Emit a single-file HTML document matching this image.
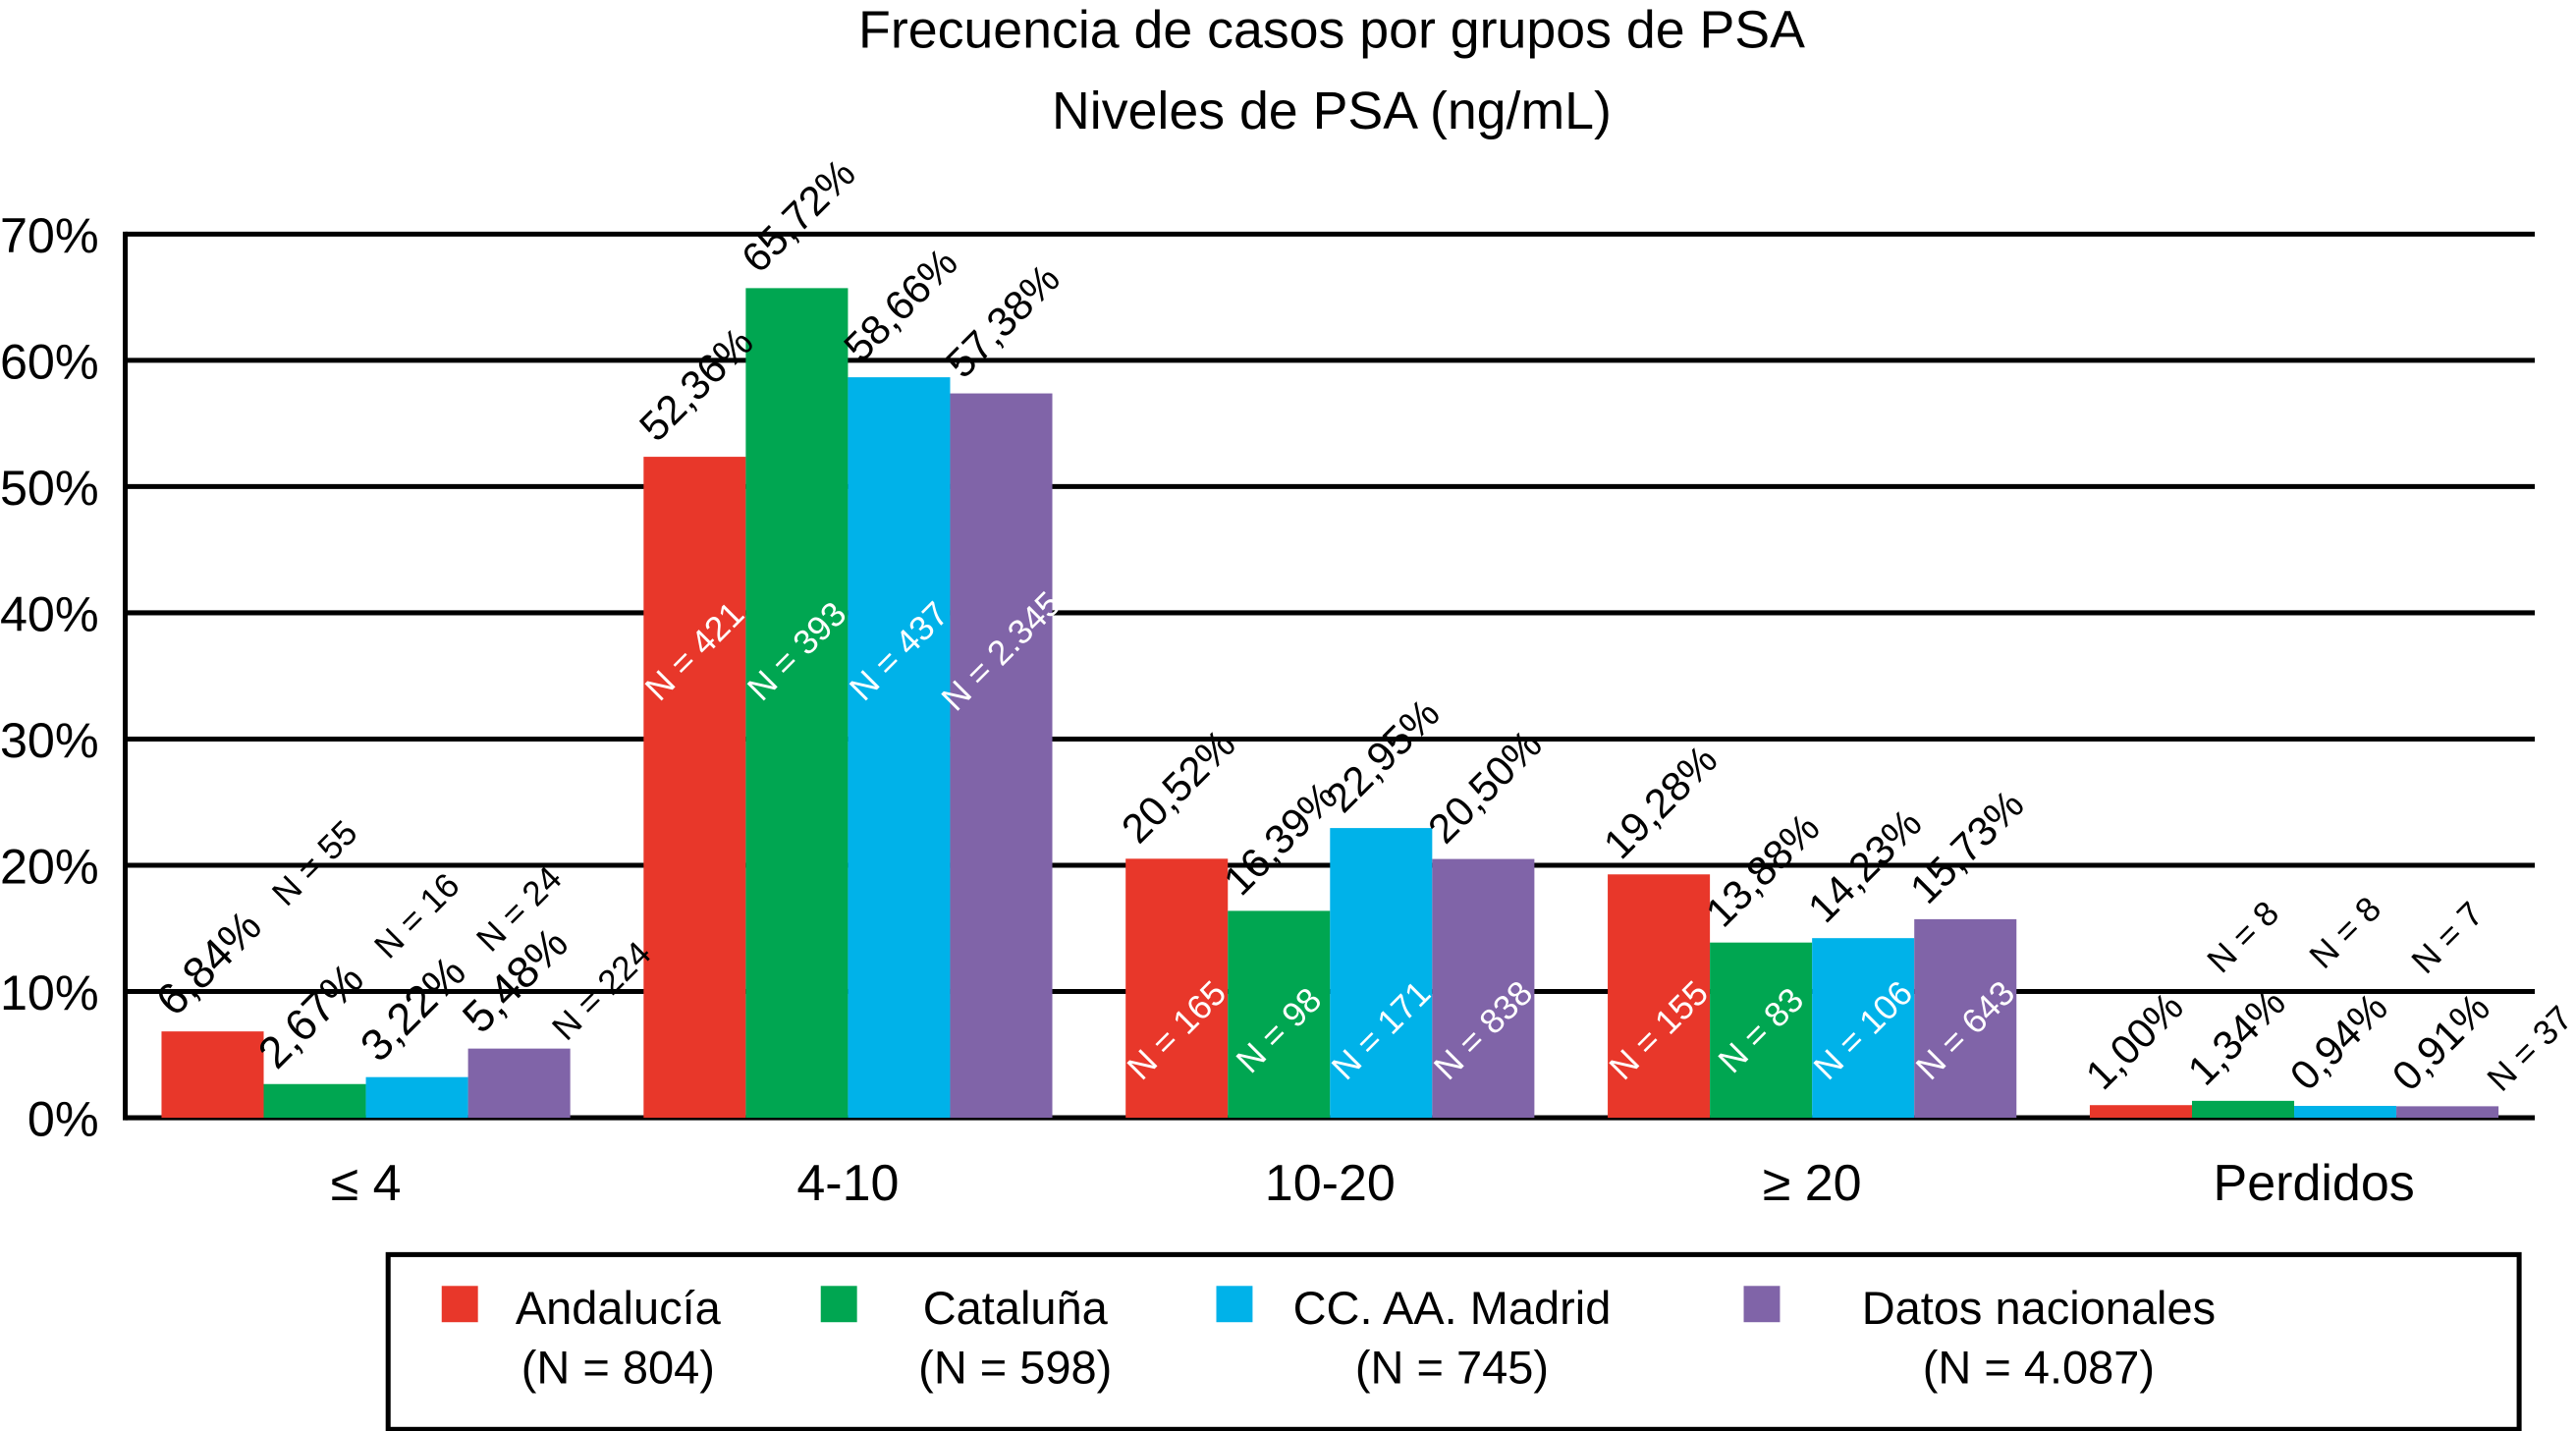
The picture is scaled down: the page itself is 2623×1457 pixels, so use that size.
<!DOCTYPE html>
<html><head><meta charset="utf-8"><title>Frecuencia de casos por grupos de PSA</title>
<style>
html,body{margin:0;padding:0;background:#fff;}
svg{display:block;font-family:"Liberation Sans Narrow","Liberation Sans",sans-serif;}
</style></head>
<body>
<svg id="chart" width="2623" height="1457" viewBox="0 0 1563 868" preserveAspectRatio="none" xmlns="http://www.w3.org/2000/svg">
  <text x="808" y="29" font-size="32" text-anchor="middle">Frecuencia de casos por grupos de PSA</text>
  <text x="808" y="78" font-size="32" text-anchor="middle">Niveles de PSA (ng/mL)</text>
  <g id="grid"></g>
  <g id="yticks"></g>
  <g id="bars"></g>
  <g id="labels"></g>
  <g id="xlabels"></g>
  <g id="legend">
    <rect x="235.5" y="761" width="1293" height="106" fill="none" stroke="#000" stroke-width="3"/>
  </g>
</svg>
<script>
const categories = ["\u2264 4", "4-10", "10-20", "\u2265 20", "Perdidos"];
const seriesNames = ["Andaluc\u00eda", "Catalu\u00f1a", "CC. AA. Madrid", "Datos nacionales"];
const seriesTotals = ["(N = 804)", "(N = 598)", "(N = 745)", "(N = 4.087)"];
const andalucia = [6.84, 52.36, 20.52, 19.28, 1.00];
const cataluna = [2.67, 65.72, 16.39, 13.88, 1.34];
const madrid = [3.22, 58.66, 22.95, 14.23, 0.94];
const nacional = [5.48, 57.38, 20.50, 15.73, 0.91];
const nAndalucia = ["55", "421", "165", "155", "8"];
const nCataluna = ["16", "393", "98", "83", "8"];
const nMadrid = ["24", "437", "171", "106", "7"];
const nNacional = ["224", "2.345", "838", "643", "37"];
const yTicks = [0, 10, 20, 30, 40, 50, 60, 70];

const series = [andalucia, cataluna, madrid, nacional];
const nSeries = [nAndalucia, nCataluna, nMadrid, nNacional];
const colors = ["#e8372a", "#00a651", "#00b2e9", "#8064a8"];
const NS = "http://www.w3.org/2000/svg";
const plotL = 76, plotR = 1538, y0 = 678, y70 = 142;
const groupStart = 98, groupStep = 292.5, barW = 62;
function yScale(v){ return y0 - (v / 70) * (y0 - y70); }
function xBar(g, s){ return groupStart + g * groupStep + s * barW; }
function mk(tag, attrs, parent){ const e = document.createElementNS(NS, tag); for (const k in attrs) e.setAttribute(k, attrs[k]); parent.appendChild(e); return e; }
const fmt = v => v.toFixed(2).replace(".", ",") + "%";

const grid = document.getElementById("grid"), yt = document.getElementById("yticks");
yTicks.forEach(t => {
  const y = yScale(t);
  const l = mk("line", {x1: plotL, x2: plotR, y1: y, y2: y, stroke: "#000", "stroke-width": 3}, grid);
  
  
  const tx = mk("text", {x: 60, y: y + 11, "font-size": 30, "text-anchor": "end"}, yt);
  
  
  tx.textContent = t + "%";
});
const ax = mk("line", {x1: plotL, x2: plotL, y1: y70 - 1.5, y2: y0 + 1.5, stroke: "#000", "stroke-width": 3}, grid);



const bars = document.getElementById("bars"), labs = document.getElementById("labels"), xl = document.getElementById("xlabels");
categories.forEach((c, g) => {
  series.forEach((arr, s) => {
    const v = arr[g], x = xBar(g, s), top = yScale(v);
    const r = mk("rect", {x: x, y: top, width: barW, height: y0 - top, fill: colors[s]}, bars);
    
    
    const vx = x + 8, vy = top - 8;
    const vt = mk("text", {x: vx, y: vy, "font-size": (g === 0 ? 27 : 25), transform: `rotate(-45 ${vx} ${vy})`}, labs);
    
    
    vt.textContent = fmt(v);
    const inside = (g >= 1 && g <= 3);
    let nx, ny;
    if (inside) { nx = x + barW / 2; ny = (g === 1 ? 395 : 625); }
    else if (s === 3) { nx = x + barW / 2 + 50; ny = top - 35; }
    else { nx = x + barW / 2 + 62; ny = top - 102; }
    const nt = mk("text", {x: nx, y: ny + 7, "font-size": 21, "text-anchor": "middle", fill: inside ? "#fff" : "#000", transform: `rotate(-45 ${nx} ${ny})`}, labs);
    
    
    nt.textContent = "N = " + nSeries[s][g];
  });
  const cx = groupStart + g * groupStep + 2 * barW;
  const ct = mk("text", {x: cx + (g === 4 ? 12 : 0), y: 728, "font-size": 31, "text-anchor": "middle"}, xl);
  
  
  ct.textContent = c;
});

const leg = document.getElementById("legend");
const legSq = [268, 498, 738, 1058];
const legTx = [375, 616, 881, 1237];
seriesNames.forEach((n, i) => {
  const r = mk("rect", {x: legSq[i], y: 780, width: 22, height: 22, fill: colors[i]}, leg);
  
  
  const t = mk("text", {x: legTx[i], y: 803, "font-size": 28, "text-anchor": "middle"}, leg);
  
  
  t.textContent = n;
  const t2 = mk("text", {x: legTx[i], y: 839, "font-size": 28, "text-anchor": "middle"}, leg);
  
  
  t2.textContent = seriesTotals[i];
});
</script>
</body></html>
